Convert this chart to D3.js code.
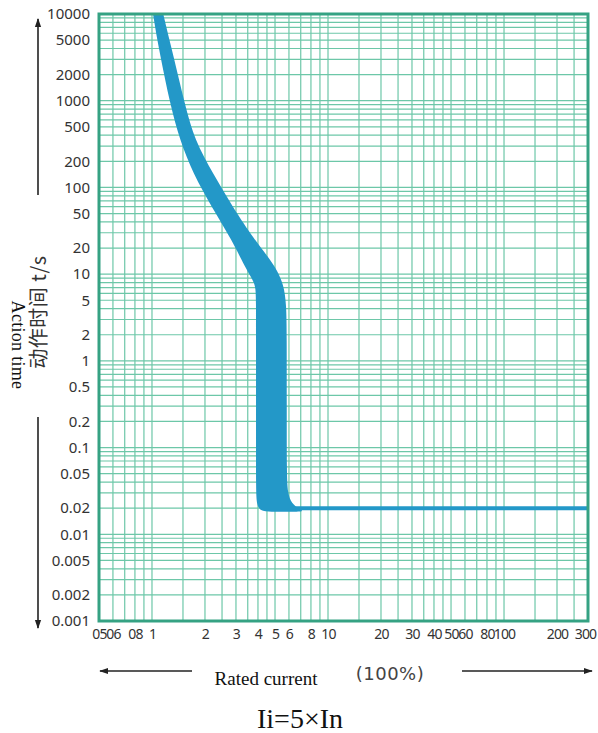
<!DOCTYPE html>
<html>
<head>
<meta charset="utf-8">
<script src="https://cdn.jsdelivr.net/npm/d3@7"></script>
<style>
  html, body { margin: 0; padding: 0; background: #fff; }
  svg { display: block; }
</style>
</head>
<body>
<div id="chart"></div>
<script>
// tick values / labels as printed on the sheet
const xTicks = [0.5, 0.6, 0.8, 1, 2, 3, 4, 5, 6, 8, 10, 20, 30, 40, 50, 60, 80, 100, 200, 300];
const xTickLabels = ["05", "06", "08", "1", "2", "3", "4", "5", "6", "8", "10", "20", "30", "40", "50", "60", "80", "100", "200", "300"];
const yTicks = [10000, 5000, 2000, 1000, 500, 200, 100, 50, 20, 10, 5, 2, 1, 0.5, 0.2, 0.1, 0.05, 0.02, 0.01, 0.005, 0.002, 0.001];
const yTickLabels = ["10000", "5000", "2000", "1000", "500", "200", "100", "50", "20", "10", "5", "2", "1", "0.5", "0.2", "0.1", "0.05", "0.02", "0.01", "0.005", "0.002", "0.001"];

// grid lines of the log paper
const xGrid = [0.5, 0.6, 0.7, 0.8, 0.9, 1, 1.5, 2, 2.5, 3, 3.5, 4, 4.5, 5, 6, 7, 8, 9,
  10, 15, 20, 25, 30, 35, 40, 45, 50, 60, 70, 80, 90, 100, 150, 200, 250, 300];
const yGridSteps = [1, 2, 3, 4, 5, 6, 7, 8, 9];
const yDecades = [0.001, 0.01, 0.1, 1, 10, 100, 1000];

// tripping band: [current (xIn), time (s)]
const lowerEdge = [[0.97, 20000], [1.01, 10000], [1.11, 3400], [1.27, 900], [1.44, 350], [1.71, 146],
  [2.19, 59], [2.85, 24.5], [3.38, 12], [3.75, 8.5], [3.88, 7], [3.9, 5], [3.9, 2], [3.9, 0.5],
  [3.9, 0.1], [3.9, 0.035], [3.93, 0.021], [4.2, 0.0183], [5.0, 0.0182], [6.0, 0.0182]];
const upperEdge = [[7.4, 0.0182], [6.9, 0.0195], [6.2, 0.0225], [5.9, 0.03], [5.83, 0.05],
  [5.83, 0.3], [5.83, 2], [5.8, 4.5], [5.6, 7.5], [5.15, 11], [4.6, 15.6], [3.85, 24.5],
  [2.88, 59], [2.22, 146], [1.75, 350], [1.54, 889], [1.32, 3400], [1.155, 10000], [1.08, 20000]];
// instantaneous trip line
const instLine = [[6.5, 0.02], [300, 0.02]];

const W = 598, H = 733;
const plot = {left: 99, right: 588, top: 14, bottom: 621};
const gridColor = "#6dc7a8", frameColor = "#35a283", bandColor = "#2398c8";

const svg = d3.select("#chart").append("svg")
  .attr("width", W)
  .attr("height", H);

const x = d3.scaleLog().domain([0.5, 300]).range([plot.left, plot.right]);
const y = d3.scaleLog().domain([0.001, 10000]).range([plot.bottom, plot.top]);

const defs = svg.append("defs");
defs.append("clipPath")
  .attr("id", "plotClip")
  .append("rect")
  .attr("x", plot.left).attr("y", plot.top)
  .attr("width", plot.right - plot.left).attr("height", plot.bottom - plot.top);

// grid
let yGrid = [];
yDecades.forEach(d => yGridSteps.forEach(s => yGrid.push(d * s)));
yGrid.push(10000);

const grid = svg.append("g").attr("stroke", gridColor).attr("stroke-width", 1.2);
grid.selectAll(".vx").data(xGrid).enter().append("line")
  .attr("class", "vx")
  .attr("x1", d => x(d)).attr("x2", d => x(d))
  .attr("y1", plot.top).attr("y2", plot.bottom);
grid.selectAll(".hy").data(yGrid).enter().append("line")
  .attr("class", "hy")
  .attr("y1", d => y(d)).attr("y2", d => y(d))
  .attr("x1", plot.left).attr("x2", plot.right);

// band
const bandPath = d3.line()
  .x(d => x(d[0]))
  .y(d => y(d[1]))
  .curve(d3.curveBasisClosed);

const band = svg.append("g").attr("clip-path", "url(#plotClip)");
band.append("path")
  .datum(lowerEdge.concat(upperEdge))
  .attr("d", bandPath)
  .attr("fill", bandColor);
band.append("path")
  .datum(instLine)
  .attr("d", d3.line().x(d => x(d[0])).y(d => y(d[1])))
  .attr("fill", "none")
  .attr("stroke", bandColor)
  .attr("stroke-width", 4);

// frame
svg.append("rect")
  .attr("x", plot.left).attr("y", plot.top)
  .attr("width", plot.right - plot.left).attr("height", plot.bottom - plot.top)
  .attr("fill", "none")
  .attr("stroke", frameColor)
  .attr("stroke-width", 3);

// axes (labels only)
const yAxis = d3.axisLeft(y)
  .tickValues(yTicks)
  .tickFormat((d, i) => yTickLabels[i])
  .tickSize(0)
  .tickPadding(9);
const yG = svg.append("g").attr("transform", `translate(${plot.left},0)`).call(yAxis);
yG.select(".domain").remove();
yG.selectAll("text")
  .attr("font-family", "'Noto Sans', 'DejaVu Sans', sans-serif")
  .attr("font-size", 15)
  .attr("fill", "#333");

const xAxis = d3.axisBottom(x)
  .tickValues(xTicks)
  .tickFormat((d, i) => xTickLabels[i])
  .tickSize(0)
  .tickPadding(8);
const xG = svg.append("g").attr("transform", `translate(0,${plot.bottom})`).call(xAxis);
xG.select(".domain").remove();
xG.selectAll("text")
  .attr("font-family", "'Noto Sans', 'DejaVu Sans', sans-serif")
  .attr("font-size", 14)
  .attr("letter-spacing", -0.8)
  .attr("fill", "#333");
// last label sits against the page edge
xG.selectAll(".tick").filter(d => d === 300).select("text").attr("dx", -3);

// arrows
defs.append("marker")
  .attr("id", "arrowHead")
  .attr("viewBox", "0 0 10 10")
  .attr("refX", 9).attr("refY", 5)
  .attr("markerWidth", 9).attr("markerHeight", 9)
  .attr("markerUnits", "userSpaceOnUse")
  .attr("orient", "auto")
  .append("path")
  .attr("d", "M0,1.5 L10,5 L0,8.5 Z")
  .attr("fill", "#222");

const arrows = [
  [[38, 195], [38, 19]],
  [[38, 417], [38, 628]],
  [[192, 671], [100, 671]],
  [[462, 671], [592, 671]]
];
svg.selectAll(".arrow").data(arrows).enter().append("line")
  .attr("class", "arrow")
  .attr("x1", d => d[0][0]).attr("y1", d => d[0][1])
  .attr("x2", d => d[1][0]).attr("y2", d => d[1][1])
  .attr("stroke", "#222")
  .attr("stroke-width", 1.6)
  .attr("marker-end", "url(#arrowHead)");

// titles
svg.append("text")
  .attr("transform", "translate(46,312) rotate(-90)")
  .attr("text-anchor", "middle")
  .attr("font-family", "'Noto Sans CJK SC', 'Noto Sans', sans-serif")
  .attr("font-size", 20)
  .attr("letter-spacing", 0.5)
  .attr("fill", "#333")
  .text("动作时间 t/s");

svg.append("text")
  .attr("transform", "translate(12,345) rotate(90)")
  .attr("text-anchor", "middle")
  .attr("font-family", "'Liberation Serif', 'Times New Roman', serif")
  .attr("font-size", 18)
  .attr("letter-spacing", 0.3)
  .attr("fill", "#111")
  .text("Action time");

svg.append("text")
  .attr("x", 266).attr("y", 685)
  .attr("text-anchor", "middle")
  .attr("font-family", "'Liberation Serif', 'Times New Roman', serif")
  .attr("font-size", 19)
  .attr("fill", "#111")
  .text("Rated current");

svg.append("text")
  .attr("x", 390).attr("y", 680)
  .attr("text-anchor", "middle")
  .attr("font-family", "'DejaVu Sans', sans-serif")
  .attr("font-size", 18)
  .attr("letter-spacing", 0.5)
  .attr("fill", "#444")
  .text("(100%)");

svg.append("text")
  .attr("x", 300).attr("y", 728)
  .attr("text-anchor", "middle")
  .attr("font-family", "'Liberation Serif', 'Times New Roman', serif")
  .attr("font-size", 28)
  .attr("fill", "#111")
  .text("Ii=5×In");
</script>
</body>
</html>
